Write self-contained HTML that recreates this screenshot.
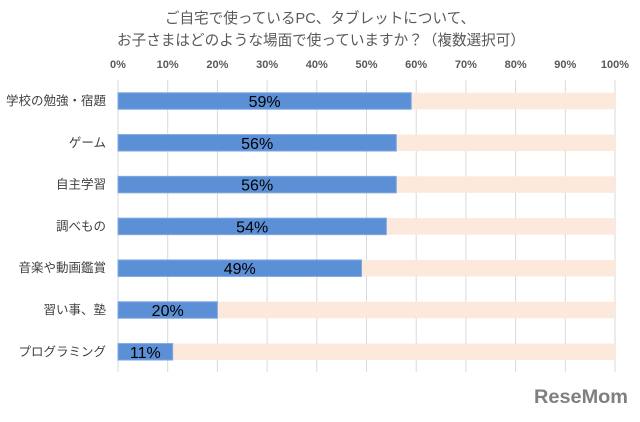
<!DOCTYPE html>
<html><head><meta charset="utf-8"><style>
body{margin:0;background:#fff;width:640px;height:417px;overflow:hidden;font-family:"Liberation Sans","Noto Sans CJK JP",sans-serif}
</style></head><body>
<svg id="c" width="640" height="417" xmlns="http://www.w3.org/2000/svg" style="font-family:'Liberation Sans','Noto Sans CJK JP',sans-serif">
<text x="320" y="23" text-anchor="middle" font-size="14.6" fill="#595959">ご自宅で使っているPC、タブレットについて、</text>
<text x="321" y="45" text-anchor="middle" font-size="14.6" fill="#595959">お子さまはどのような場面で使っていますか？（複数選択可）</text>
<g id="grid"></g><g id="bars"></g>
<text x="628" y="403" text-anchor="end" font-size="19" font-weight="bold" fill="#7f7f7f" textLength="94" lengthAdjust="spacingAndGlyphs">ReseMom</text>
</svg>
<script>
const categories=["学校の勉強・宿題","ゲーム","自主学習","調べもの","音楽や動画鑑賞","習い事、塾","プログラミング"];
const values=[59,56,56,54,49,20,11];
const ticks=[0,10,20,30,40,50,60,70,80,90,100];
const ns="http://www.w3.org/2000/svg";
const x0=118,x1=615,yTop=101,step=41.8,bh=16.5;
const X=v=>x0+(x1-x0)*v/100, Y=i=>yTop+i*step;
function mk(t,a,p){const e=document.createElementNS(ns,t);for(const k in a)e.setAttribute(k,a[k]);p.appendChild(e);return e;}
const g=document.getElementById('grid'),b=document.getElementById('bars');
ticks.forEach(t=>{
 const l=mk('line',{x1:X(t),x2:X(t),y1:80,y2:372,stroke:'#d9d9d9','stroke-width':1},g);
 
 
 const tx=mk('text',{x:X(t),y:68,'text-anchor':'middle','font-size':11,'font-weight':'bold',fill:'#595959'},g);
 tx.textContent=t+'%';
 
 
});
categories.forEach((c,i)=>{
 const y=Y(i);
 const bg=mk('rect',{x:X(0),y:y-bh/2,width:X(100)-X(0),height:bh,fill:'#fce9dc'},b);
 
 
 const r=mk('rect',{x:X(0),y:y-bh/2,width:X(values[i])-X(0),height:bh,fill:'#5b8fd6',stroke:'#82a9e0','stroke-width':1},b);
 
 
 const lb=mk('text',{x:106,y:y+4,'text-anchor':'end','font-size':12.5,fill:'#404040'},b);
 lb.textContent=c;
 
 
 const vl=mk('text',{x:(X(0)+X(values[i]))/2,y:y+6,'text-anchor':'middle','font-size':16,fill:'#000'},b);
 vl.textContent=values[i]+'%';
 
 
});
</script>
</body></html>
